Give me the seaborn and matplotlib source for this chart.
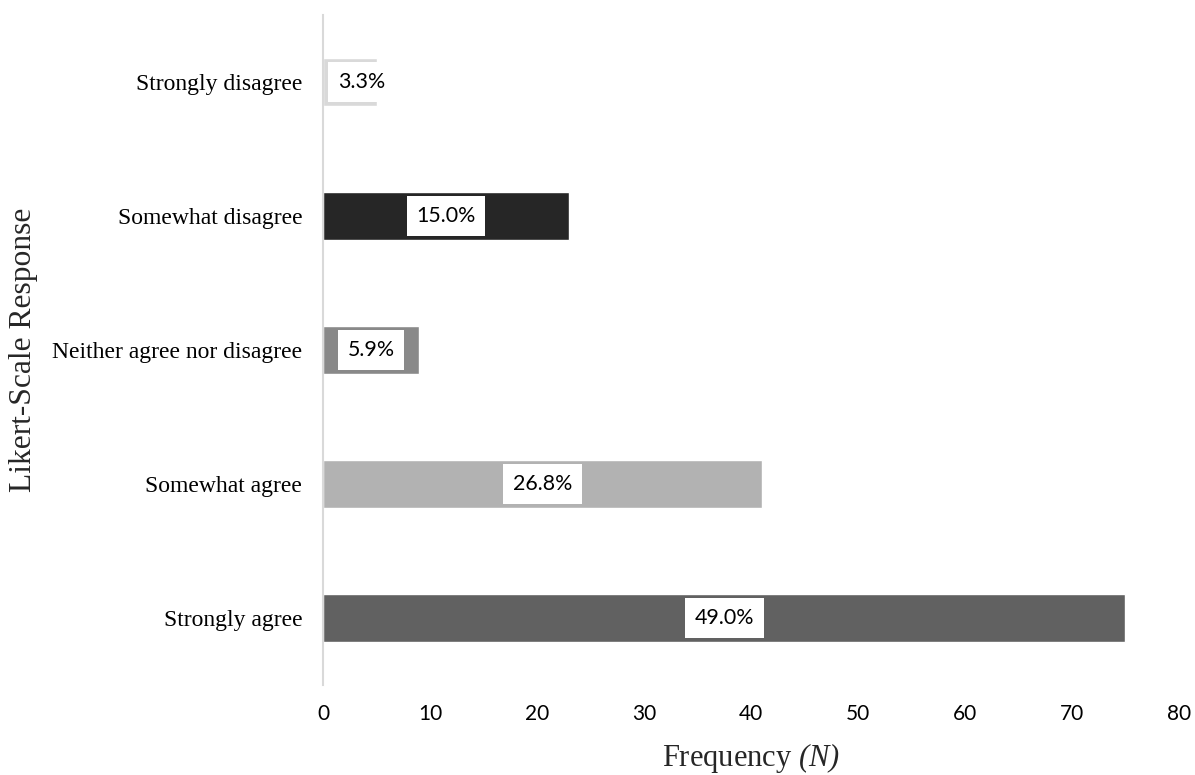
import matplotlib
matplotlib.use("Agg")
import matplotlib.pyplot as plt
import seaborn as sns
import pandas as pd

responses = ["Strongly disagree", "Somewhat disagree", "Neither agree nor disagree",
             "Somewhat agree", "Strongly agree"]
counts = [5, 23, 9, 41, 75]
percent_labels = ["3.3%", "15.0%", "5.9%", "26.8%", "49.0%"]
bar_colors = ["#d9d9d9", "#262626", "#898989", "#b2b2b2", "#616161"]
x_ticks = [0, 10, 20, 30, 40, 50, 60, 70, 80]

df = pd.DataFrame({"response": responses, "count": counts})

sns.set_theme(style="white")
# italic serif for the "(N)" part of the x-axis title, parentheses included
plt.rcParams["mathtext.fontset"] = "custom"
plt.rcParams["mathtext.rm"] = "Liberation Serif:italic"
plt.rcParams["mathtext.it"] = "Liberation Serif:italic"
serif = ["Liberation Serif", "DejaVu Serif"]
sans = ["Lato", "DejaVu Sans"]

fig = plt.figure(figsize=(11.95, 7.75), dpi=100)
ax = fig.add_axes([0.2703, 0.1161, 0.7163, 0.8645])

sns.barplot(data=df, x="count", y="response", hue="response", order=responses,
            hue_order=responses, palette=bar_colors, width=0.36, orient="h",
            legend=False, ax=ax, saturation=1)

ax.set_xlim(0, 80)
ax.set_ylim(4.5, -0.5)
ax.set_xticks(x_ticks)
ax.set_xticklabels([str(t) for t in x_ticks], fontfamily=sans, fontsize=15)
ax.set_yticks(range(len(responses)))
ax.set_yticklabels(responses, fontfamily=serif, fontsize=17)
ax.tick_params(axis="x", length=0, pad=14, colors="#000000")
ax.tick_params(axis="y", length=0, pad=15, colors="#000000")

for side in ["top", "right", "bottom"]:
    ax.spines[side].set_visible(False)
ax.spines["left"].set_color("#d9d9d9")
ax.spines["left"].set_linewidth(1.5)

# value labels in white boxes near the middle of each bar
for i, (c, lab) in enumerate(zip(counts, percent_labels)):
    xpos = max(c / 2, 3.6)
    ax.text(xpos, i, lab, ha="center", va="center", fontfamily=sans, fontsize=15.4,
            color="#000000",
            bbox=dict(boxstyle="square,pad=0.45", facecolor="white", edgecolor="none"))

ax.set_ylabel("Likert-Scale Response", fontfamily=serif, fontsize=22.7)
ax.yaxis.set_label_coords(-0.35, 0.5)
ax.yaxis.label.set_va("center")
ax.set_xlabel("Frequency $(N)$", fontfamily=serif, fontsize=22)
ax.xaxis.set_label_coords(0.5, -0.083)

fig.savefig("out.png", dpi=100)
